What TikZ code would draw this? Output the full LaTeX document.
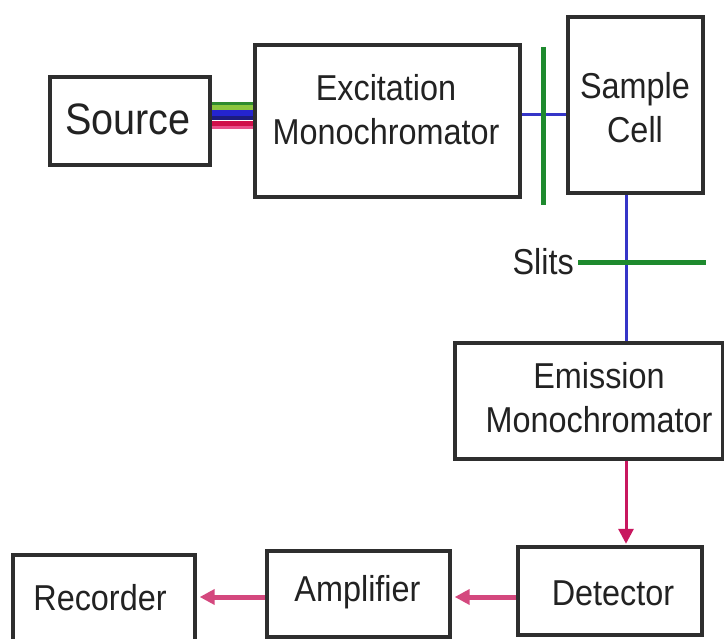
\documentclass[tikz,border=0pt]{standalone}
\usepackage{fontspec}
\setmainfont{Liberation Sans}[FakeStretch=0.9]
\usetikzlibrary{arrows.meta}
\definecolor{boxline}{HTML}{2E2E2E}
\definecolor{txt}{HTML}{222222}
\definecolor{beam}{HTML}{3535C8}
\definecolor{slitg}{HTML}{1E8A2E}
\definecolor{sig}{HTML}{C8175F}
\definecolor{sigl}{HTML}{D4487E}
\definecolor{sA}{HTML}{2E8B2E}
\definecolor{sB}{HTML}{8CC63F}
\definecolor{sC}{HTML}{2424D0}
\definecolor{sD}{HTML}{1C1C80}
\definecolor{sE}{HTML}{D0104A}
\definecolor{sF}{HTML}{E8508A}
\begin{document}
\begin{tikzpicture}[x=1pt,y=-1pt,
  box/.style={draw=boxline, line width=3.4pt, fill=white, inner sep=0pt},
  lbl/.style={text=txt, align=center, font=\fontsize{36}{44}\selectfont, inner sep=0pt},
  beamline/.style={draw=beam, line width=3pt},
  slitline/.style={draw=slitg, line width=5pt},
  sigarrow/.style={draw=sig, -{Triangle[length=15pt,width=15pt]}}]
\useasboundingbox (0,0) rectangle (724,639);
\fill[white] (0,0) rectangle (724,639);

% boxes
\node[box, minimum width=160pt, minimum height=88pt] (src) at (130,121) {};
\node[box, minimum width=265pt, minimum height=152pt] (exc) at (387.5,121) {};
\node[box, minimum width=135pt, minimum height=176pt] (smp) at (635.5,105) {};
\node[box, minimum width=268pt, minimum height=116pt] (emi) at (589,401) {};
\node[box, minimum width=184pt, minimum height=88pt] (det) at (610,591) {};
\node[box, minimum width=183pt, minimum height=86pt] (amp) at (358.5,594) {};
\node[box, minimum width=182pt, minimum height=93pt] (rec) at (104,601.5) {};

% labels
\node[lbl, font=\fontsize{44}{50}\selectfont] (srct) at (128,119) {Source};
\node[lbl] (exct) at (386,110) {Excitation\\Monochromator};
\node[lbl] (smpt) at (635,108) {Sample\\Cell};
\node[lbl] (emit) at (599,398) {Emission\\Monochromator};
\node[lbl] (dett) at (613,593) {Detector};
\node[lbl] (ampt) at (357.5,592) {Amplifier};
\node[lbl] (rect) at (100,598) {Recorder};
\node[lbl, anchor=east] (slt) at (574,262) {Slits};

% coordinates
\coordinate (slit1) at (543,115);
\coordinate (slit1top) at (543,47);
\coordinate (slit1bot) at (543,205);
\coordinate (slit2) at (626,263);
\coordinate (slit2l) at (578,263);
\coordinate (slit2r) at (706,263);
\coordinate (sigy) at (0,597);

% colored source beam
\foreach \yy/\cc/\ww in {103.5/sA/3, 107.5/sB/5, 113.5/sC/6, 118.5/sD/4, 123.5/sE/5, 127.5/sF/3}
  \draw[\cc, line width=\ww pt] (src.east |- 0,\yy) -- (exc.west |- 0,\yy);

% beam lines
\draw[beamline] (slit1 -| exc.east) -- (slit1 -| smp.west);
\draw[slitline] (slit1top) -- (slit1) -- (slit1bot);
\draw[beamline] (slit2 |- smp.south) -- (slit2 |- emi.north);
\draw[slitline] (slit2l) -- (slit2) -- (slit2r);

% signal arrows
\draw[sigarrow, line width=3pt] (slit2 |- emi.south) -- ([yshift=1.5pt]slit2 |- det.north);
\draw[sigarrow, line width=5pt, draw=sigl] (sigy -| det.west) -- ([xshift=3pt]sigy -| amp.east);
\draw[sigarrow, line width=5pt, draw=sigl] (sigy -| amp.west) -- ([xshift=3pt]sigy -| rec.east);
\end{tikzpicture}
\end{document}
